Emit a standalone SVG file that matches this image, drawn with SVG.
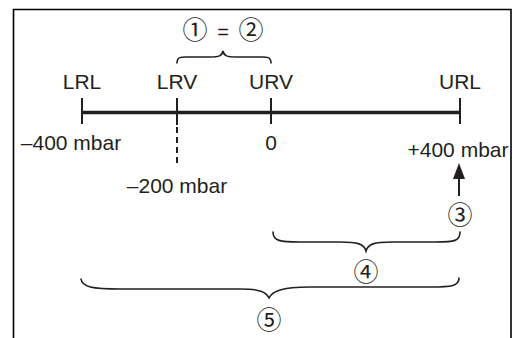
<svg xmlns="http://www.w3.org/2000/svg" width="518" height="338" viewBox="0 0 518 338">
<style>
.t{font-family:"Liberation Sans",Arial,sans-serif;font-size:21px;fill:#231f20;text-anchor:middle}
.c{font-family:"Liberation Sans","Noto Sans CJK JP",sans-serif;font-size:25px;fill:#231f20;text-anchor:middle}
.b{fill:none;stroke:#231f20;stroke-width:1.6;stroke-linecap:round}
.k{stroke:#231f20;stroke-width:2}
</style>
<defs>
<marker id="ah" viewBox="0 0 16 12" refX="9" refY="6" markerWidth="16" markerHeight="12" markerUnits="userSpaceOnUse" orient="auto">
<path d="M0,0 L16,6 L0,12 Z" fill="#231f20"/>
</marker>
</defs>
<rect width="518" height="338" fill="#fff"/>
<path d="M13.5,338 V9.5 H511 V338" fill="none" stroke="#000" stroke-width="1.6"/>
<g id="connectors">
<line x1="82" y1="112.5" x2="460" y2="112.5" stroke="#231f20" stroke-width="3.5"/>
<line class="k" x1="82" y1="98" x2="82" y2="124"/>
<line class="k" x1="177" y1="98" x2="177" y2="125"/>
<line class="k" x1="177" y1="127" x2="177" y2="165" stroke-dasharray="6,4"/>
<line class="k" x1="271" y1="98" x2="271" y2="124"/>
<line class="k" x1="460" y1="98" x2="460" y2="124"/>
<line x1="459" y1="196" x2="459" y2="170" stroke="#231f20" stroke-width="2" marker-end="url(#ah)"/>
<path class="b" d="M177,63 C177,56 182,57 190,57 L210,57 C219,57 222,56 223,51 C224,56 227,57 236,57 L258,57 C266,57 271,56 271,63"/>
<path class="b" d="M273,232 C273,241 280,242 300,242 L340,242 C358,242 364,244 366,251 C368,244 374,242 392,242 L435,242 C455,242 460,241 460,232"/>
<path class="b" d="M81,279 C82,287 92,289 120,289 L240,289 C260,289 266,292 269,298 C272,292 280,287 310,287 L430,287 C452,287 459,286 459,278"/>
</g>
<g id="lrl"><text class="t" x="82" y="89">LRL</text><text class="t" x="71" y="150">–400 mbar</text></g>
<g id="lrv"><text class="t" x="177" y="89">LRV</text><text class="t" x="177" y="193">–200 mbar</text></g>
<g id="urv"><text class="t" x="271" y="89">URV</text><text class="t" x="271" y="150">0</text></g>
<g id="url"><text class="t" x="460" y="89">URL</text><text class="t" x="458" y="157">+400 mbar</text></g>
<g id="n12"><text class="c" y="39"><tspan x="195">①</tspan><tspan x="223" font-size="20">=</tspan><tspan x="251">②</tspan></text></g>
<g id="n3"><text class="c" x="460" y="224">③</text></g>
<g id="n4"><text class="c" x="366" y="281">④</text></g>
<g id="n5"><text class="c" x="269" y="329">⑤</text></g>
</svg>
